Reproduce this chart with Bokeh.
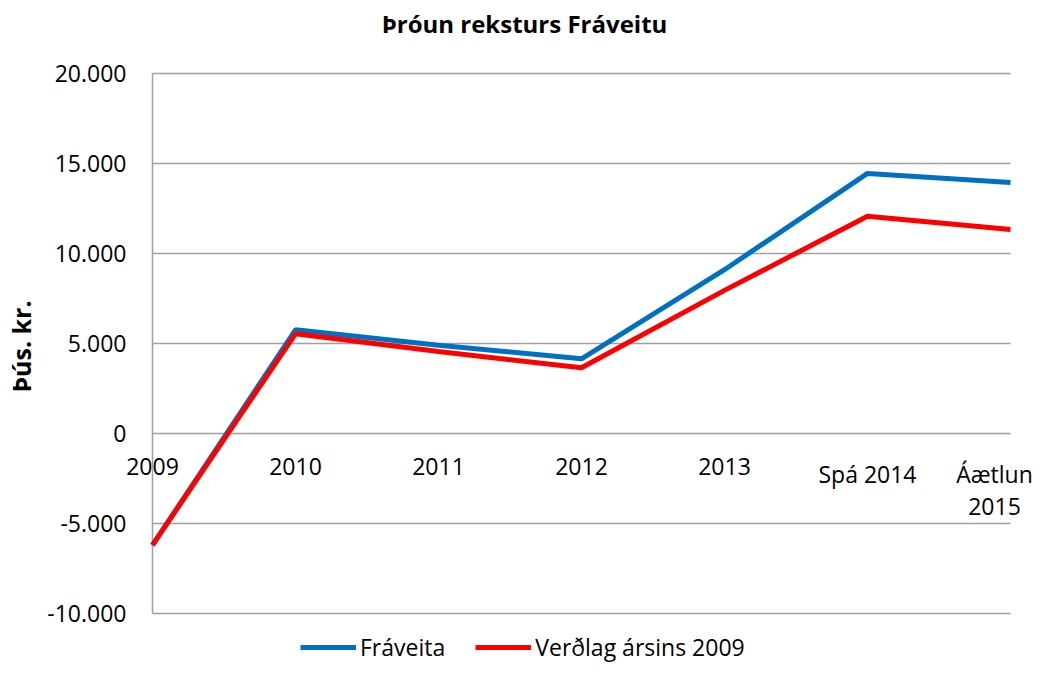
import math
from bokeh.plotting import figure
from bokeh.models import Range1d, Legend, LegendItem, ColumnDataSource
from bokeh.core.properties import value
from bokeh.embed import file_html
from bokeh.resources import INLINE

title_text = "Þróun reksturs Fráveitu"
y_label = "Þús. kr."
categories = ["2009", "2010", "2011", "2012", "2013", "Spá 2014", "Áætlun\n2015"]
fraveita = [-6200, 5760, 4900, 4150, 9100, 14450, 13950]
verdlag = [-6200, 5540, 4550, 3650, 7950, 12070, 11330]
y_ticks = [-10000, -5000, 0, 5000, 10000, 15000, 20000]
series_names = ["Fráveita", "Verðlag ársins 2009"]

FONT = "Open Sans"
W, H = 1035, 664
# plot area inside the canvas (pixels)
PL, PR, PT, PB = 152, 1010, 73, 613

n = len(categories)
xs = list(range(n))
ymin, ymax = min(y_ticks), max(y_ticks)
xpp = (n - 1) / (PR - PL)
ypp = (ymax - ymin) / (PB - PT)

p = figure(width=W, height=H, output_backend="svg", toolbar_location=None,
           x_range=Range1d(-PL * xpp, (n - 1) + (W - PR) * xpp),
           y_range=Range1d(ymin - (H - PB) * ypp, ymax + PT * ypp),
           min_border=0)
p.axis.visible = False
p.grid.visible = False
p.outline_line_color = None
p.background_fill_color = "white"
p.border_fill_color = "white"

GRID = "#a0a0a0"
# horizontal grid lines
p.segment(x0=[0] * len(y_ticks), x1=[n - 1] * len(y_ticks), y0=y_ticks, y1=y_ticks,
          line_color=GRID, line_width=1.5)
# vertical axis line
p.segment(x0=[0], x1=[0], y0=[ymin], y1=[ymax], line_color=GRID, line_width=1.5)

# y tick labels
tick_txt = [f"{t:,}".replace(",", ".") for t in y_ticks]
p.text(x=[0] * len(y_ticks), y=y_ticks, text=tick_txt, text_font=value(FONT),
       text_font_size="23px", text_color="black", text_align="right",
       text_baseline="middle", x_offset=-26)

# y axis title
p.text(x=[0], y=[(ymin + ymax) / 2], text=[y_label], text_font=value(FONT),
       text_font_size="25px", text_font_style="bold", text_color="black",
       text_align="center", text_baseline="middle", angle=math.pi / 2,
       x_offset=-132, y_offset=3)

# chart title
p.text(x=[0], y=[ymax], text=[title_text], text_font=value(FONT),
       text_font_size="24px", text_font_style="bold", text_color="black",
       text_align="center", text_baseline="middle", x_offset=372, y_offset=-50)

# category labels under the zero line (last one nudged to stay inside the canvas)
x_off = [0] * (n - 1) + [-16]
src = ColumnDataSource(dict(x=xs, y=[0] * n, text=categories, xo=x_off))
p.text(x="x", y="y", text="text", source=src, text_font=value(FONT),
       text_font_size="23px", text_color="black", text_align="center",
       text_baseline="top", x_offset="xo", y_offset=24, text_line_height=1.0)

r1 = p.line(xs, fraveita, line_color="#0070C0", line_width=5)
r2 = p.line(xs, verdlag, line_color="#FF0000", line_width=5)

legend = Legend(items=[LegendItem(label=series_names[0], renderers=[r1]),
                       LegendItem(label=series_names[1], renderers=[r2])],
                orientation="horizontal", location=(300, 1),
                label_text_font=FONT, label_text_font_size="23px",
                label_text_color="black", glyph_width=56, glyph_height=20,
                label_standoff=4, spacing=30, border_line_color=None,
                background_fill_alpha=0, padding=1, margin=0)
p.add_layout(legend, "center")

open("out.html", "w").write(file_html(p, INLINE))
